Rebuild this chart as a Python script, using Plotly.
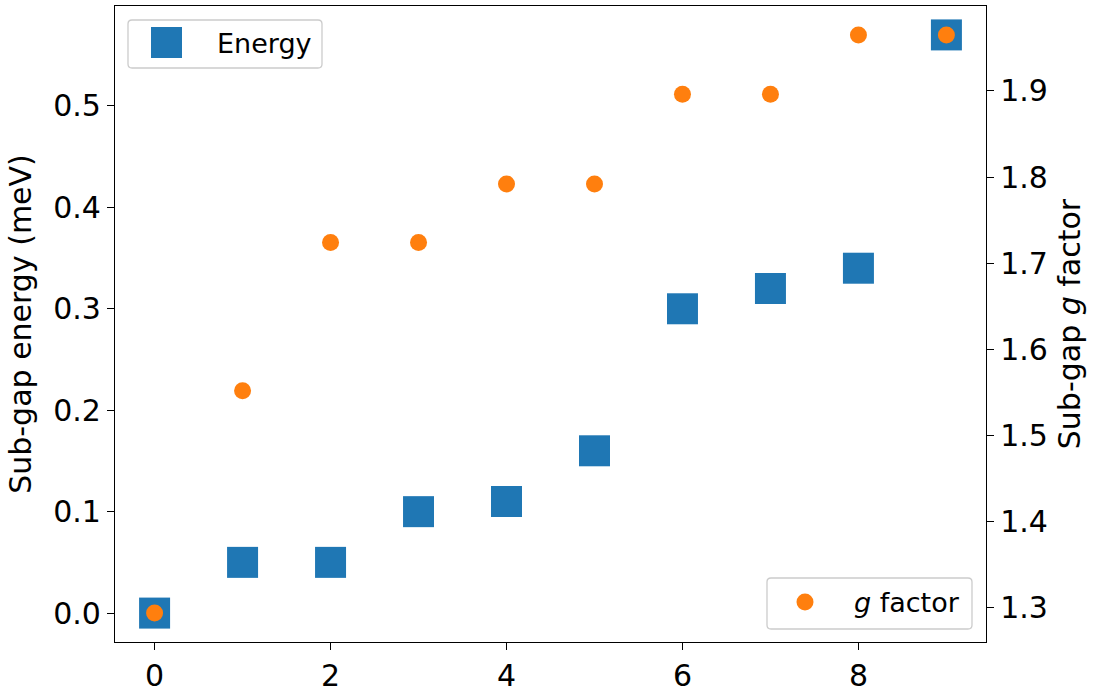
import plotly.graph_objects as go

# Sub-gap state index and the two measured quantities
state_index = [0, 1, 2, 3, 4, 5, 6, 7, 8, 9]
subgap_energy_meV = [0.0, 0.05, 0.05, 0.10, 0.11, 0.16, 0.30, 0.32, 0.34, 0.57]
subgap_g_factor = [1.294, 1.552, 1.724, 1.724, 1.792, 1.792, 1.896, 1.896, 1.965, 1.965]

energy_ticks = [0.0, 0.1, 0.2, 0.3, 0.4, 0.5]
g_ticks = [1.3, 1.4, 1.5, 1.6, 1.7, 1.8, 1.9]
x_ticks = [0, 2, 4, 6, 8]

BLUE = "#1f77b4"
ORANGE = "#ff7f0e"
FONT = "DejaVu Sans"

W, H = 1094, 688
L, R, T, B = 115, 108, 6, 46
PW, PH = W - L - R, H - T - B


def pad(lo, hi, frac=0.05):
    span = hi - lo
    return [lo - frac * span, hi + frac * span]


def px(x):
    return (x - L) / PW


def py(y):
    return (H - B - y) / PH


def rounded_box(x0, y0, x1, y1, r=4):
    """Rounded rectangle path in paper coordinates from pixel corners."""
    rx, ry = r / PW, r / PH
    a, b, c, d = px(x0), py(y1), px(x1), py(y0)  # left, bottom, right, top
    return (
        f"M {a+rx},{b} L {c-rx},{b} Q {c},{b} {c},{b+ry} "
        f"L {c},{d-ry} Q {c},{d} {c-rx},{d} L {a+rx},{d} "
        f"Q {a},{d} {a},{d-ry} L {a},{b+ry} Q {a},{b} {a+rx},{b} Z"
    )


fig = go.Figure()
fig.add_trace(go.Scatter(
    x=state_index, y=subgap_energy_meV, mode="markers", name="Energy",
    marker=dict(symbol="square", size=31, color=BLUE, line=dict(width=0)),
    yaxis="y", showlegend=False,
))
fig.add_trace(go.Scatter(
    x=state_index, y=subgap_g_factor, mode="markers", name="g factor",
    marker=dict(symbol="circle", size=17, color=ORANGE, line=dict(width=0)),
    yaxis="y2", showlegend=False,
))

tick_font = dict(family=FONT, size=30, color="black")
common = dict(showgrid=False, zeroline=False, showline=True, linecolor="black",
              linewidth=1.3, ticks="outside", ticklen=7, tickwidth=1.3,
              tickcolor="black", tickfont=tick_font, automargin=False)

fig.update_layout(
    width=W, height=H,
    margin=dict(l=L, r=R, t=T, b=B),
    paper_bgcolor="white", plot_bgcolor="white",
    font=dict(family=FONT, color="black"),
    xaxis=dict(range=pad(0, 9), tickvals=x_ticks, mirror=True, **common),
    yaxis=dict(range=pad(0.0, 0.57), tickvals=energy_ticks,
               tickformat=".1f",
               title=dict(text="Sub-gap energy (meV)", standoff=12,
                          font=dict(family=FONT, size=30)),
               **common),
    yaxis2=dict(range=pad(1.294, 1.965), tickvals=g_ticks, tickformat=".1f",
                overlaying="y", side="right",
                title=dict(text="Sub-gap <i>g</i> factor", standoff=12,
                           font=dict(family=FONT, size=30)),
                **common),
)

# Legend boxes drawn as rounded frames with a swatch and a label
legend_font = dict(family=FONT, size=27, color="black")
shapes = [
    dict(type="path", xref="paper", yref="paper",
         path=rounded_box(128, 20, 322, 68),
         line=dict(color="#cccccc", width=1.3), fillcolor="rgba(255,255,255,0.8)"),
    dict(type="rect", xref="paper", yref="paper",
         x0=px(151), x1=px(182), y0=py(58), y1=py(27),
         line=dict(width=0), fillcolor=BLUE),
    dict(type="path", xref="paper", yref="paper",
         path=rounded_box(767, 578, 972, 629),
         line=dict(color="#cccccc", width=1.3), fillcolor="rgba(255,255,255,0.8)"),
    dict(type="circle", xref="paper", yref="paper",
         x0=px(796.5), x1=px(813.5), y0=py(610.5), y1=py(593.5),
         line=dict(width=0), fillcolor=ORANGE),
]
annotations = [
    dict(xref="paper", yref="paper", x=px(215), y=py(43), text="Energy",
         showarrow=False, xanchor="left", yanchor="middle", font=legend_font),
    dict(xref="paper", yref="paper", x=px(852), y=py(602), text="<i>g</i> factor",
         showarrow=False, xanchor="left", yanchor="middle", font=legend_font),
]
fig.update_layout(shapes=shapes, annotations=annotations)

fig.write_html("out.html")
